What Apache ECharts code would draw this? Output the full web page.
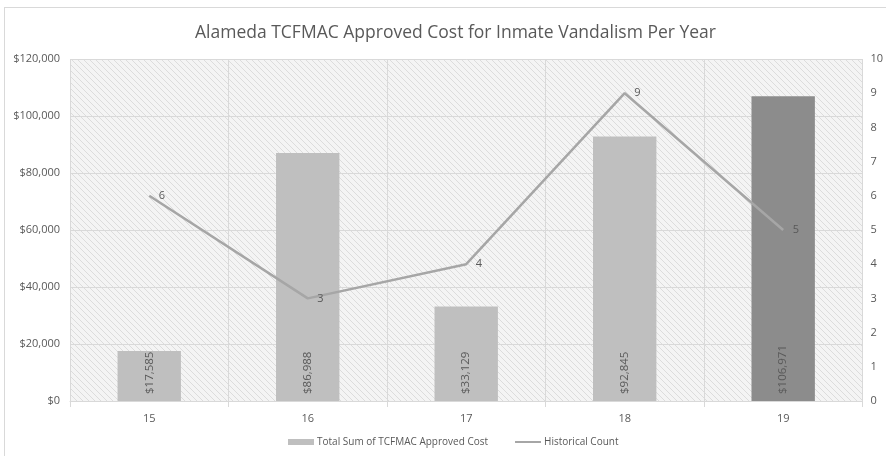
<!DOCTYPE html>
<html>
<head>
<meta charset="utf-8">
<script src="https://cdn.jsdelivr.net/npm/echarts@6/dist/echarts.min.js"></script>
<style>
  html, body { margin: 0; padding: 0; background: #fff; }
  #frame { position: absolute; left: 4px; top: 7px; width: 900px; height: 460px; border: 1px solid #d9d9d9; }
  #chart { width: 886px; height: 456px; position: absolute; left: 0; top: 0; }
</style>
</head>
<body>
<div id="frame"></div>
<div id="chart"></div>
<script>
// values
let years = ['15', '16', '17', '18', '19']
let approvedCost = [17585, 86988, 33129, 92845, 106971]
let historicalCount = [6, 3, 4, 9, 5]
let barColors = ['#bfbfbf', '#bfbfbf', '#bfbfbf', '#bfbfbf', '#8c8c8c']

//斜线底纹
function hatch(){
  let c = document.createElement('canvas')
  c.width = 6; c.height = 6
  let ctx = c.getContext('2d')
  ctx.fillStyle = '#f4f4f4'
  ctx.fillRect(0, 0, 6, 6)
  ctx.strokeStyle = '#dcdcdc'
  ctx.lineWidth = 1
  ctx.beginPath()
  ctx.moveTo(0, 0); ctx.lineTo(6, 6)
  ctx.moveTo(-3, 3); ctx.lineTo(3, 9)
  ctx.moveTo(3, -3); ctx.lineTo(9, 3)
  ctx.stroke()
  return c
}
function money(v){
  return '$' + v.toString().replace(/\d(?=(?:\d{3})+\b)/g, '$&,')
}

let font = 'Open Sans'
let txt = '#595959'
let myChart = echarts.init(document.getElementById('chart'))
myChart.setOption({
  textStyle: { fontFamily: font },
  title: {
    text: 'Alameda TCFMAC Approved Cost for Inmate Vandalism Per Year',
    left: 190, top: 19,
    textStyle: { fontFamily: font, fontSize: 17.5, fontWeight: 'normal', color: txt }
  },
  legend: {
    bottom: 4, left: 283,
    itemWidth: 26, itemHeight: 6, itemGap: 26,
    textStyle: { fontFamily: font, fontSize: 10, color: txt, padding: [0, 0, 0, -2] },
    data: [
      { name: 'Total Sum of TCFMAC Approved Cost', icon: 'rect', itemStyle: { color: '#bfbfbf' } },
      { name: 'Historical Count' }
    ]
  },
  grid: {
    left: 70, right: 20, top: 59, bottom: 55,
    show: true, borderWidth: 0,
    backgroundColor: { image: hatch(), repeat: 'repeat' }
  },
  xAxis: {
    type: 'category', data: years,
    axisLine: { lineStyle: { color: '#d9d9d9' } },
    axisTick: { show: true, length: 6, lineStyle: { color: '#d9d9d9' } },
    splitLine: { show: true, lineStyle: { color: '#d9d9d9' } },
    axisLabel: { color: txt, fontSize: 11, margin: 12 }
  },
  yAxis: [
    {
      type: 'value', min: 0, max: 120000, interval: 20000,
      axisLine: { show: false }, axisTick: { show: false },
      splitLine: { lineStyle: { color: '#d9d9d9' } },
      axisLabel: { color: txt, fontSize: 11, margin: 10, formatter: money }
    },
    {
      type: 'value', min: 0, max: 10, interval: 1,
      axisLine: { show: false }, axisTick: { show: false }, splitLine: { show: false },
      axisLabel: { color: txt, fontSize: 11, margin: 8 }
    }
  ],
  series: [
    {
      name: 'Total Sum of TCFMAC Approved Cost', type: 'bar', barWidth: '40%',
      data: approvedCost.map((v, i) => ({ value: v, itemStyle: { color: barColors[i] } })),
      itemStyle: { color: '#bfbfbf' },
      label: {
        show: true, position: 'insideBottom', rotate: 90, align: 'left', verticalAlign: 'middle',
        distance: 7, color: txt, fontSize: 11.5,
        formatter: p => money(p.value)
      }
    },
    {
      name: 'Historical Count', type: 'line', yAxisIndex: 1, data: historicalCount,
      symbol: 'circle', symbolSize: 1, showSymbol: true,
      lineStyle: { color: '#a6a6a6', width: 2.5 },
      itemStyle: { color: 'rgba(166,166,166,0)' },
      label: { show: true, position: 'right', distance: 9, color: txt, fontSize: 11 }
    }
  ]
})
</script>
</body>
</html>
